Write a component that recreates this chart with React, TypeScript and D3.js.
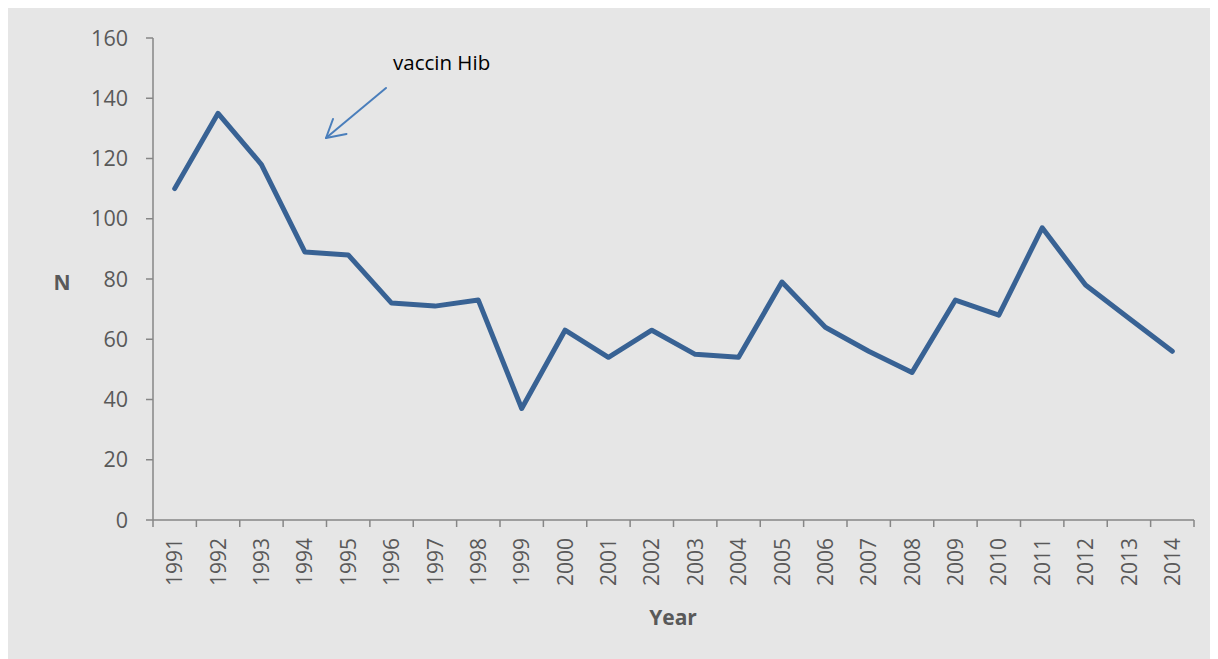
import React from "react";
import * as d3 from "d3";

const years = ["1991","1992","1993","1994","1995","1996","1997","1998","1999","2000","2001","2002","2003","2004","2005","2006","2007","2008","2009","2010","2011","2012","2013","2014"];
const values = [110,135,118,89,88,72,71,73,37,63,54,63,55,54,79,64,56,49,73,68,97,78,67,56];
const yTicks = [0,20,40,60,80,100,120,140,160];
const annotationText = "vaccin Hib";
const xTitle = "Year";
const yTitle = "N";

export default function App() {
  const W = 1218, H = 659;
  const left = 145, right = 1186, top = 30, bottom = 512;
  const x = d3.scaleBand<string>().domain(years).range([left, right]).padding(0);
  const y = d3.scaleLinear().domain([0, 160]).range([bottom, top]);
  const line = d3.line<number>()
    .x((_, i) => (x(years[i]) as number) + x.bandwidth() / 2)
    .y((d) => y(d));
  const font = "'Open Sans', 'Liberation Sans', sans-serif";
  const axisColor = "#868686";
  const textColor = "#595959";
  const bounds = [...years.map((yr) => x(yr) as number), right];
  return (
    <svg width={W} height={H} style={{ display: "block" }}>
      <rect x={0} y={0} width={W} height={H} fill="#e6e6e6" />
      {/* y axis */}
      <line x1={left} x2={left} y1={top} y2={bottom} stroke={axisColor} strokeWidth={1.5} />
      {yTicks.map((t) => (
        <g key={t}>
          <line x1={left - 7} x2={left} y1={y(t)} y2={y(t)} stroke={axisColor} strokeWidth={1.5} />
          <text x={120} y={y(t)} dy="0.36em" textAnchor="end" fontFamily={font} fontSize={21.5} fill={textColor}>{t}</text>
        </g>
      ))}
      {/* x axis */}
      <line x1={left} x2={right} y1={bottom} y2={bottom} stroke={axisColor} strokeWidth={1.5} />
      {bounds.map((b, i) => (
        <line key={i} x1={b} x2={b} y1={bottom} y2={bottom + 7} stroke={axisColor} strokeWidth={1.5} />
      ))}
      {years.map((yr) => {
        const cx = (x(yr) as number) + x.bandwidth() / 2;
        return (
          <text key={yr} transform={`translate(${cx},${530}) rotate(-90)`} dy="0.36em" textAnchor="end" fontFamily={font} fontSize={21} fill={textColor}>{yr}</text>
        );
      })}
      <text x={665} y={609} dy="0.36em" textAnchor="middle" fontFamily={font} fontSize={21} fontWeight="bold" fill={textColor}>{xTitle}</text>
      <text x={54} y={274} dy="0.36em" textAnchor="middle" fontFamily={font} fontSize={21} fontWeight="bold" fill={textColor}>{yTitle}</text>
      {/* data line */}
      <path d={line(values) || ""} fill="none" stroke="#386294" strokeWidth={5} strokeLinejoin="round" strokeLinecap="round" />
      {/* annotation */}
      <text x={385} y={62} fontFamily={font} fontSize={20.5} fill="#000">{annotationText}</text>
      <g stroke="#4a7ebb" strokeWidth={2} fill="none" strokeLinecap="round" strokeLinejoin="round">
        <line x1={378} y1={80} x2={318} y2={130} />
        <polyline points="325,111 318,130 338.5,126" />
      </g>
    </svg>
  );
}
